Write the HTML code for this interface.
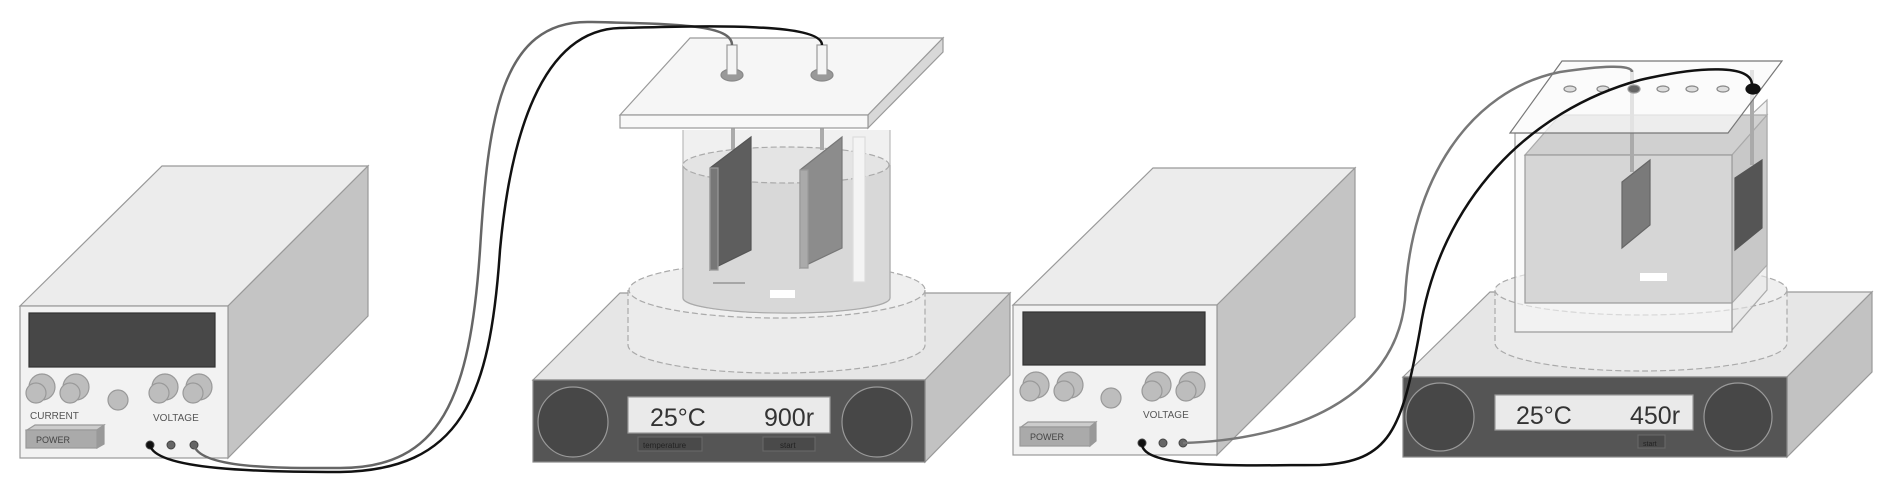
<!DOCTYPE html>
<html><head><meta charset="utf-8"><style>html,body{margin:0;padding:0;background:#fff}svg{display:block}</style></head>
<body>
<svg width="1890" height="496" viewBox="0 0 1890 496" xmlns="http://www.w3.org/2000/svg" font-family="Liberation Sans, sans-serif">
<g stroke="#999" stroke-width="1.2">
<!-- PSU 1 -->
<polygon points="20,306 162,166 368,166 228,306" fill="#ececec"/>
<polygon points="228,306 368,166 368,316 228,458" fill="#c4c4c4"/>
<rect x="20" y="306" width="208" height="152" fill="#f2f2f2"/>
<rect x="29" y="313" width="186" height="54" fill="#474747" stroke="#333"/>
<g fill="#bdbdbd" stroke="#999">
<circle cx="42" cy="387" r="13"/><circle cx="36" cy="393" r="10"/>
<circle cx="76" cy="387" r="13"/><circle cx="70" cy="393" r="10"/>
<circle cx="118" cy="400" r="10"/>
<circle cx="165" cy="387" r="13"/><circle cx="159" cy="393" r="10"/>
<circle cx="199" cy="387" r="13"/><circle cx="193" cy="393" r="10"/>
</g>
<polygon points="27,430 97,430 104,425 35,425" fill="#ccc"/>
<polygon points="97,430 104,425 104,444 97,448" fill="#999"/>
<rect x="26" y="430" width="71" height="18" fill="#aaa"/>
<!-- hotplate 1 -->
<polygon points="533,380 620,293 1010,293 925,380" fill="#e6e6e6"/>
<polygon points="925,380 1010,293 1010,375 925,462" fill="#c2c2c2"/>
<rect x="533" y="380" width="392" height="82" fill="#555" stroke="#888"/>
<circle cx="573" cy="422" r="35" fill="#474747" stroke="#999"/>
<circle cx="877" cy="422" r="35" fill="#474747" stroke="#999"/>
<rect x="628" y="397" width="202" height="36" fill="#eaeaea"/>
<rect x="638" y="437" width="64" height="14" fill="#4a4a4a" stroke="#666"/>
<rect x="763" y="437" width="52" height="14" fill="#4a4a4a" stroke="#666"/>
<path d="M628,290 L628,345 A148,28 0 0 0 925,345 L925,290" fill="#ebebeb" stroke="#aaa" stroke-dasharray="6,3"/>
<ellipse cx="777" cy="290" rx="148" ry="28" fill="#efefef" stroke="#aaa" stroke-dasharray="6,3"/>
<!-- beaker 1 -->
<path d="M683,130 L683,298 A103,15 0 0 0 890,298 L890,130" fill="#f0f0f0" stroke="#bbb"/>
<path d="M683,165 L683,298 A103,15 0 0 0 890,298 L890,165" fill="#d8d8d8" stroke="#aaa"/>
<ellipse cx="786" cy="165" rx="103" ry="18" fill="#e4e4e4" stroke="#aaa" stroke-dasharray="6,3"/>
<rect x="853" y="137" width="12" height="145" fill="#f4f4f4" stroke="#ddd"/>
<rect x="770" y="290" width="25" height="8" fill="#fff" stroke="none"/>
<line x1="713" y1="283" x2="745" y2="283" stroke="#888"/>
<line x1="733" y1="128" x2="733" y2="150" stroke="#aaa" stroke-width="4"/>
<line x1="822" y1="128" x2="822" y2="150" stroke="#aaa" stroke-width="4"/>
<polygon points="710,168 751,137 751,250 710,270" fill="#5e5e5e" stroke="#555"/>
<polygon points="710,168 718,168 718,270 710,270" fill="#777"/>
<polygon points="800,170 842,137 842,248 800,268" fill="#8c8c8c" stroke="#777"/>
<polygon points="800,170 808,170 808,268 800,268" fill="#aaa"/>
<!-- lid 1 -->
<polygon points="620,115 690,38 943,38 868,115" fill="#f6f6f6"/>
<polygon points="868,115 943,38 943,52 868,128" fill="#d8d8d8"/>
<rect x="620" y="115" width="248" height="13" fill="#f8f8f8"/>
<ellipse cx="732" cy="75" rx="11" ry="6" fill="#999" stroke="#888"/>
<ellipse cx="822" cy="75" rx="11" ry="6" fill="#999" stroke="#888"/>
<rect x="727" y="45" width="10" height="30" fill="#f4f4f4"/>
<rect x="817" y="45" width="10" height="30" fill="#f4f4f4"/>
<!-- PSU 2 -->
<polygon points="1013,305 1153,168 1355,168 1217,305" fill="#ececec"/>
<polygon points="1217,305 1355,168 1355,317 1217,455" fill="#c4c4c4"/>
<rect x="1013" y="305" width="204" height="150" fill="#f2f2f2"/>
<rect x="1023" y="312" width="182" height="53" fill="#474747" stroke="#333"/>
<g fill="#bdbdbd" stroke="#999">
<circle cx="1036" cy="385" r="13"/><circle cx="1030" cy="391" r="10"/>
<circle cx="1070" cy="385" r="13"/><circle cx="1064" cy="391" r="10"/>
<circle cx="1111" cy="398" r="10"/>
<circle cx="1158" cy="385" r="13"/><circle cx="1152" cy="391" r="10"/>
<circle cx="1192" cy="385" r="13"/><circle cx="1186" cy="391" r="10"/>
</g>
<polygon points="1021,427 1090,427 1096,422 1028,422" fill="#ccc"/>
<polygon points="1090,427 1096,422 1096,441 1090,446" fill="#999"/>
<rect x="1020" y="427" width="70" height="19" fill="#aaa"/>
<!-- hotplate 2 -->
<polygon points="1403,377 1490,292 1872,292 1787,377" fill="#e6e6e6"/>
<polygon points="1787,377 1872,292 1872,372 1787,457" fill="#c2c2c2"/>
<rect x="1403" y="377" width="384" height="80" fill="#555" stroke="#888"/>
<circle cx="1440" cy="417" r="34" fill="#474747" stroke="#999"/>
<circle cx="1738" cy="417" r="34" fill="#474747" stroke="#999"/>
<rect x="1495" y="395" width="198" height="35" fill="#eaeaea"/>
<rect x="1638" y="435" width="27" height="13" fill="#4a4a4a" stroke="#666"/>
<path d="M1495,290 L1495,343 A146,28 0 0 0 1787,343 L1787,290" fill="#ebebeb" stroke="#aaa" stroke-dasharray="6,3"/>
<ellipse cx="1641" cy="290" rx="146" ry="25" fill="#efefef" stroke="#aaa" stroke-dasharray="6,3"/>
<!-- box beaker 2 -->
<polygon points="1732,133 1767,100 1767,290 1732,330" fill="#e8e8e8" fill-opacity="0.6" stroke="#aaa"/>
<rect x="1515" y="133" width="217" height="199" fill="#f6f6f6" fill-opacity="0.6" stroke="#999"/>
<polygon points="1525,155 1560,115 1767,115 1732,155" fill="#d0d0d0" stroke="#aaa"/>
<polygon points="1732,155 1767,115 1767,265 1732,303" fill="#c8c8c8" stroke="#aaa"/>
<rect x="1525" y="155" width="207" height="148" fill="#d6d6d6" stroke="#999"/>
<rect x="1640" y="273" width="27" height="8" fill="#fff" stroke="none"/>
<line x1="1632" y1="70" x2="1632" y2="172" stroke="#aaa" stroke-width="4"/>
<polygon points="1622,182 1650,160 1650,225 1622,248" fill="#7a7a7a" stroke="#666"/>
<line x1="1752" y1="70" x2="1752" y2="165" stroke="#aaa" stroke-width="4"/>
<polygon points="1735,178 1762,160 1762,228 1735,250" fill="#555" stroke="#555"/>
<!-- lid 2 -->
<polygon points="1510,133 1562,61 1782,61 1728,133" fill="#fafafa" fill-opacity="0.7" stroke="#777"/>
<g fill="#ddd" stroke="#888">
<ellipse cx="1570" cy="89" rx="6" ry="3"/><ellipse cx="1603" cy="89" rx="6" ry="3"/>
<ellipse cx="1663" cy="89" rx="6" ry="3"/><ellipse cx="1692" cy="89" rx="6" ry="3"/><ellipse cx="1723" cy="89" rx="6" ry="3"/>
</g>
<ellipse cx="1634" cy="89" rx="6" ry="4" fill="#666"/>
<ellipse cx="1753" cy="89" rx="7" ry="5" fill="#111" stroke="#111"/>
</g>
<!-- terminals -->
<g fill="#666" stroke="#444">
<circle cx="150" cy="445" r="4" fill="#111"/><circle cx="171" cy="445" r="4"/><circle cx="194" cy="445" r="4"/>
<circle cx="1142" cy="443" r="4" fill="#111"/><circle cx="1163" cy="443" r="4"/><circle cx="1183" cy="443" r="4"/>
</g>
<!-- wires -->
<g fill="none" stroke-width="2.5">
<path d="M194,445 C200,470 290,468 340,468 C440,468 470,400 480,250 C488,120 500,20 590,22 C680,24 732,25 732,45" stroke="#666"/>
<path d="M150,445 C155,470 260,472 340,472 C460,470 490,400 500,250 C510,140 540,30 620,28 C700,26 822,22 822,45" stroke="#111"/>
<path d="M1183,443 C1290,440 1395,400 1405,300 C1410,180 1470,90 1560,72 C1600,66 1632,64 1632,72" stroke="#777"/>
<path d="M1142,443 C1140,470 1250,465 1320,465 C1390,462 1402,430 1420,330 C1440,200 1530,110 1640,80 C1700,66 1752,64 1752,85" stroke="#111"/>
</g>
<!-- text -->
<g fill="#555" font-size="10">
<text x="30" y="419">CURRENT</text><text x="153" y="421">VOLTAGE</text>
<text x="36" y="443" font-size="9" fill="#444">POWER</text>
<text x="1143" y="418">VOLTAGE</text>
<text x="1030" y="440" font-size="9" fill="#444">POWER</text>
<text x="643" y="448" font-size="8" fill="#222">temperature</text>
<text x="780" y="448" font-size="8" fill="#222">start</text>
<text x="1643" y="446" font-size="7" fill="#222">start</text>
</g>
<g fill="#333" font-size="25">
<text x="650" y="426">25°C</text><text x="764" y="426">900r</text>
<text x="1516" y="424">25°C</text><text x="1630" y="424">450r</text>
</g>
</svg>
</body></html>
